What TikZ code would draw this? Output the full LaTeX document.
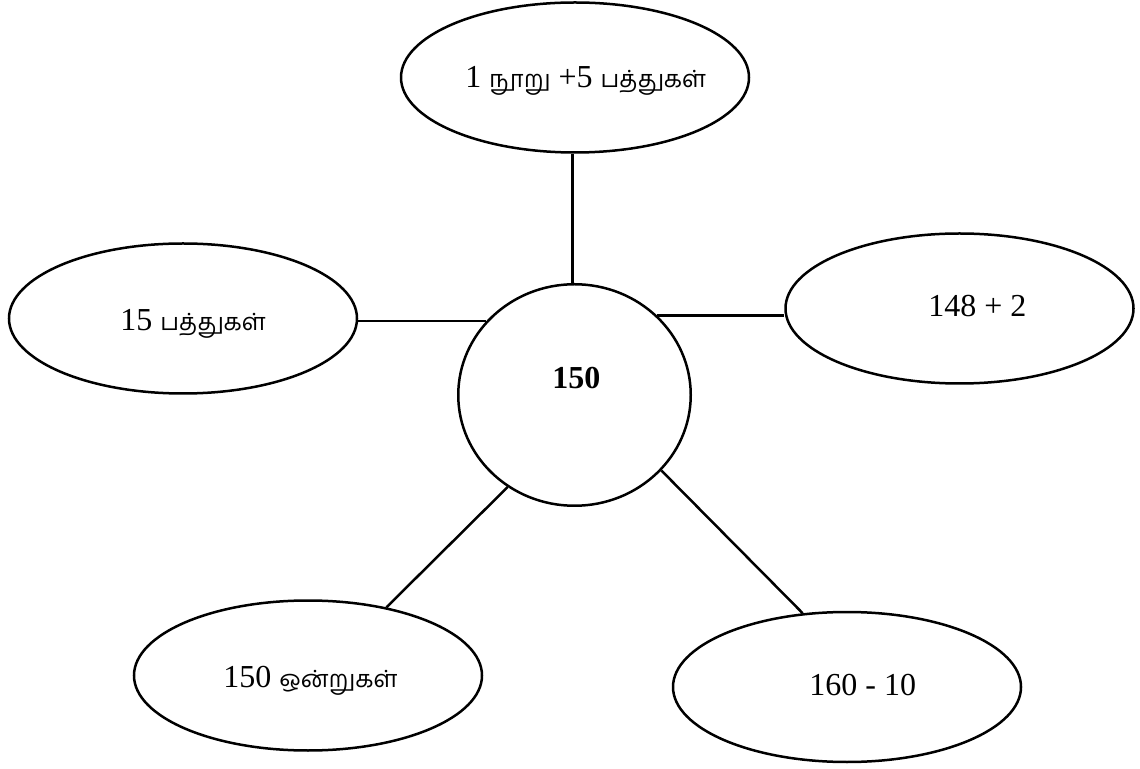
\documentclass[tikz,border=0pt]{standalone}
\usepackage{fontspec}
\setmainfont{Liberation Serif}
\newfontfamily\tam[Script=Tamil,Scale=0.74]{Hind Madurai}
\usetikzlibrary{shapes.geometric}
\tikzset{
  bubble/.style={draw, line width=1.25pt, ellipse, inner sep=0pt,
    minimum width=174pt, minimum height=75pt},
  hub/.style={draw, line width=1.25pt, ellipse, inner sep=0pt,
    minimum width=116.25pt, minimum height=110.75pt},
  lbl/.style={inner sep=0pt, anchor=base west, font=\fontsize{16}{19}\selectfont},
  link/.style={line width=1.25pt}
}
\begin{document}
\begin{tikzpicture}[x=0.5pt,y=-0.5pt]
\useasboundingbox (0,0) rectangle (1140,769);
\node[hub] (c) at (574.5,395) {};
\node[bubble] (t) at (575,77.5) {};
\node[bubble] (l) at (183,318.5) {};
\node[bubble] (r) at (959.5,308.5) {};
\node[bubble] (bl) at (308,675.5) {};
\node[bubble] (br) at (847,687) {};
\node[lbl, font=\fontsize{16}{19}\selectfont\bfseries] (tc) at (552,389) {150};
\node[lbl] (tt) at (465,88) {1 {\tam நூறு} +5 {\tam பத்துகள்}};
\node[lbl] (tl) at (120,331) {15 {\tam பத்துகள்}};
\node[lbl] (tr) at (928,317) {148 + 2};
\node[lbl] (tbl) at (223,687) {150 {\tam ஒன்றுகள்}};
\node[lbl] (tbr) at (809,695) {160 - 10};
\draw[link] (c.91.3) -- (c.91.3 |- t.south);
\draw[link] (c.140.5) -- (c.140.5 -| l.east);
\draw[link] (c.44) -- (c.44 -| r.west);
\draw[link] (c.234) -- (bl.41);
\draw[link] (c.319.4) -- (br.121);
\end{tikzpicture}
\end{document}
